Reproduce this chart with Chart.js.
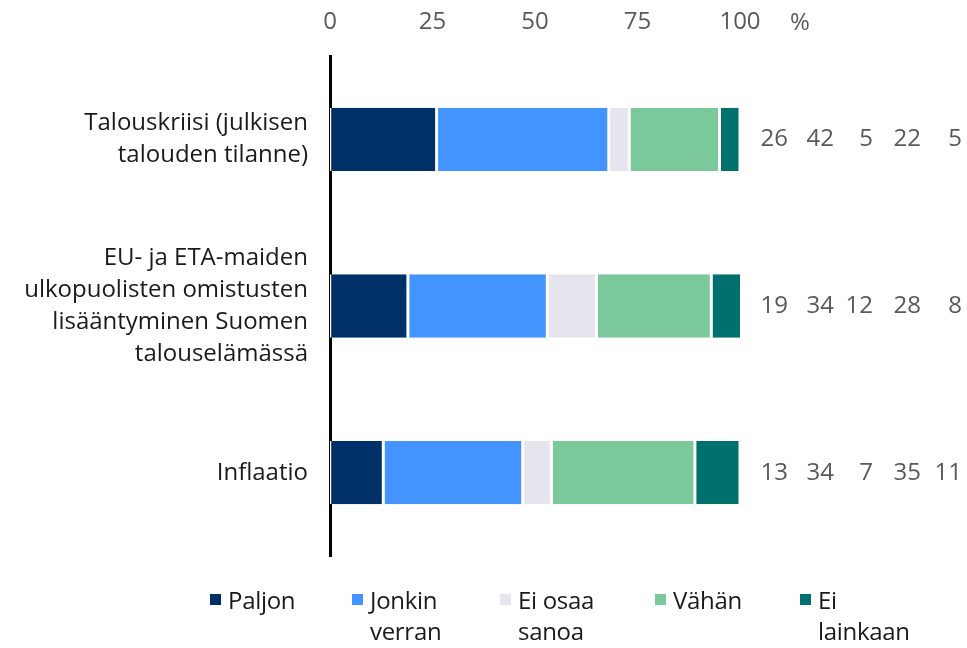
<!DOCTYPE html>
<html lang="fi">
<head>
<meta charset="utf-8">
<script src="https://cdn.jsdelivr.net/npm/chart.js@4"></script>
<style>
  html, body { margin: 0; padding: 0; background: #fff; }
  #wrap { position: relative; width: 967px; height: 648px; }
  #legend {
    position: absolute; left: 210px; top: 584px;
    display: grid; grid-template-columns: 142px 148px 155px 145px auto;
    font-family: "Open Sans", sans-serif; font-size: 24px; line-height: 31px; color: #1a1a1a;
    letter-spacing: -0.3px;
  }
  #legend .item { display: flex; align-items: flex-start; }
  #legend .box { width: 11px; height: 11px; margin: 10px 7px 0 0; flex: none; }
</style>
</head>
<body>
<div id="wrap">
  <canvas id="kuvio" width="967" height="648"></canvas>
  <div id="legend"></div>
</div>
<script>
// Kategoriat (rivit monirivisinä)
const kategoriat = [
    ["Talouskriisi (julkisen", "talouden tilanne)"],
    ["EU- ja ETA-maiden", "ulkopuolisten omistusten", "lisääntyminen Suomen", "talouselämässä"],
    ["Inflaatio"]
];
const sarjat = [["Paljon"], ["Jonkin", "verran"], ["Ei osaa", "sanoa"], ["Vähän"], ["Ei", "lainkaan"]];

// Osuudet, %
const paljon = [26, 19, 13];
const jonkinVerran = [42, 34, 34];
const eiOsaaSanoa = [5, 12, 7];
const vahan = [22, 28, 35];
const eiLainkaan = [5, 8, 11];

const asteikko = [0, 25, 50, 75, 100];
const varit = ["#003068", "#4394ff", "#e6e4ec", "#7bc89a", "#00706e"];

const fontti = "'Open Sans', sans-serif";
const arvot = [paljon, jonkinVerran, eiOsaaSanoa, vahan, eiLainkaan];

// Luvut oikeaan reunaan sarakkeina
const arvoSarakkeet = [48, 94, 133, 181, 222];
const luvutPlugin = {
    id: "luvut",
    afterDraw(chart) {
        const { ctx, chartArea, scales } = chart;
        ctx.save();
        ctx.font = "24px " + fontti;
        ctx.fillStyle = "#595959";
        ctx.textBaseline = "middle";
        ctx.textAlign = "right";
        kategoriat.forEach((_, i) => {
            const y = scales.y.getPixelForValue(i);
            arvot.forEach((sarja, d) => {
                ctx.fillText(String(sarja[i]), chartArea.right + arvoSarakkeet[d], y);
            });
        });
        // prosenttimerkki akselin jatkeeksi
        ctx.textAlign = "center";
        ctx.fillText("%", scales.x.getPixelForValue(100) + 60, 23);
        ctx.restore();
    }
};

const ctx = document.getElementById("kuvio").getContext("2d");
new Chart(ctx, {
    type: "bar",
    data: {
        labels: kategoriat,
        datasets: arvot.map((sarja, d) => ({
            label: sarjat[d].join(" "),
            data: sarja,
            backgroundColor: varit[d],
            borderColor: "#ffffff",
            borderWidth: { left: 1.5, right: 1.5, top: 0, bottom: 0 },
            borderSkipped: false,
            categoryPercentage: 0.38,
            barPercentage: 1
        }))
    },
    options: {
        indexAxis: "y",
        responsive: false,
        animation: false,
        layout: { padding: { left: 0, right: 227, top: 0, bottom: 92 } },
        plugins: {
            legend: { display: false },
            tooltip: { enabled: false }
        },
        scales: {
            x: {
                position: "top",
                stacked: true,
                min: 0,
                max: 100,
                afterBuildTicks(scale) {
                    scale.ticks = asteikko.map(v => ({ value: v }));
                },
                afterFit(scale) { scale.height = 56; },
                grid: { display: false, drawTicks: false },
                border: { display: false },
                ticks: {
                    color: "#595959",
                    font: { family: fontti, size: 24 },
                    padding: 19,
                    maxRotation: 0
                }
            },
            y: {
                stacked: true,
                z: 1,
                afterFit(scale) { scale.width = 330; },
                grid: { display: false, drawTicks: false },
                border: { display: true, color: "#000000", width: 3 },
                ticks: {
                    color: "#1a1a1a",
                    font: { family: fontti, size: 24, lineHeight: 1.34 },
                    padding: 22
                }
            }
        }
    },
    plugins: [luvutPlugin]
});

// Selite
const selite = document.getElementById("legend");
sarjat.forEach((rivit, d) => {
    const item = document.createElement("div");
    item.className = "item";
    const box = document.createElement("span");
    box.className = "box";
    box.style.background = varit[d];
    const teksti = document.createElement("span");
    teksti.innerHTML = rivit.join("<br>");
    item.appendChild(box);
    item.appendChild(teksti);
    selite.appendChild(item);
});
</script>
</body>
</html>
